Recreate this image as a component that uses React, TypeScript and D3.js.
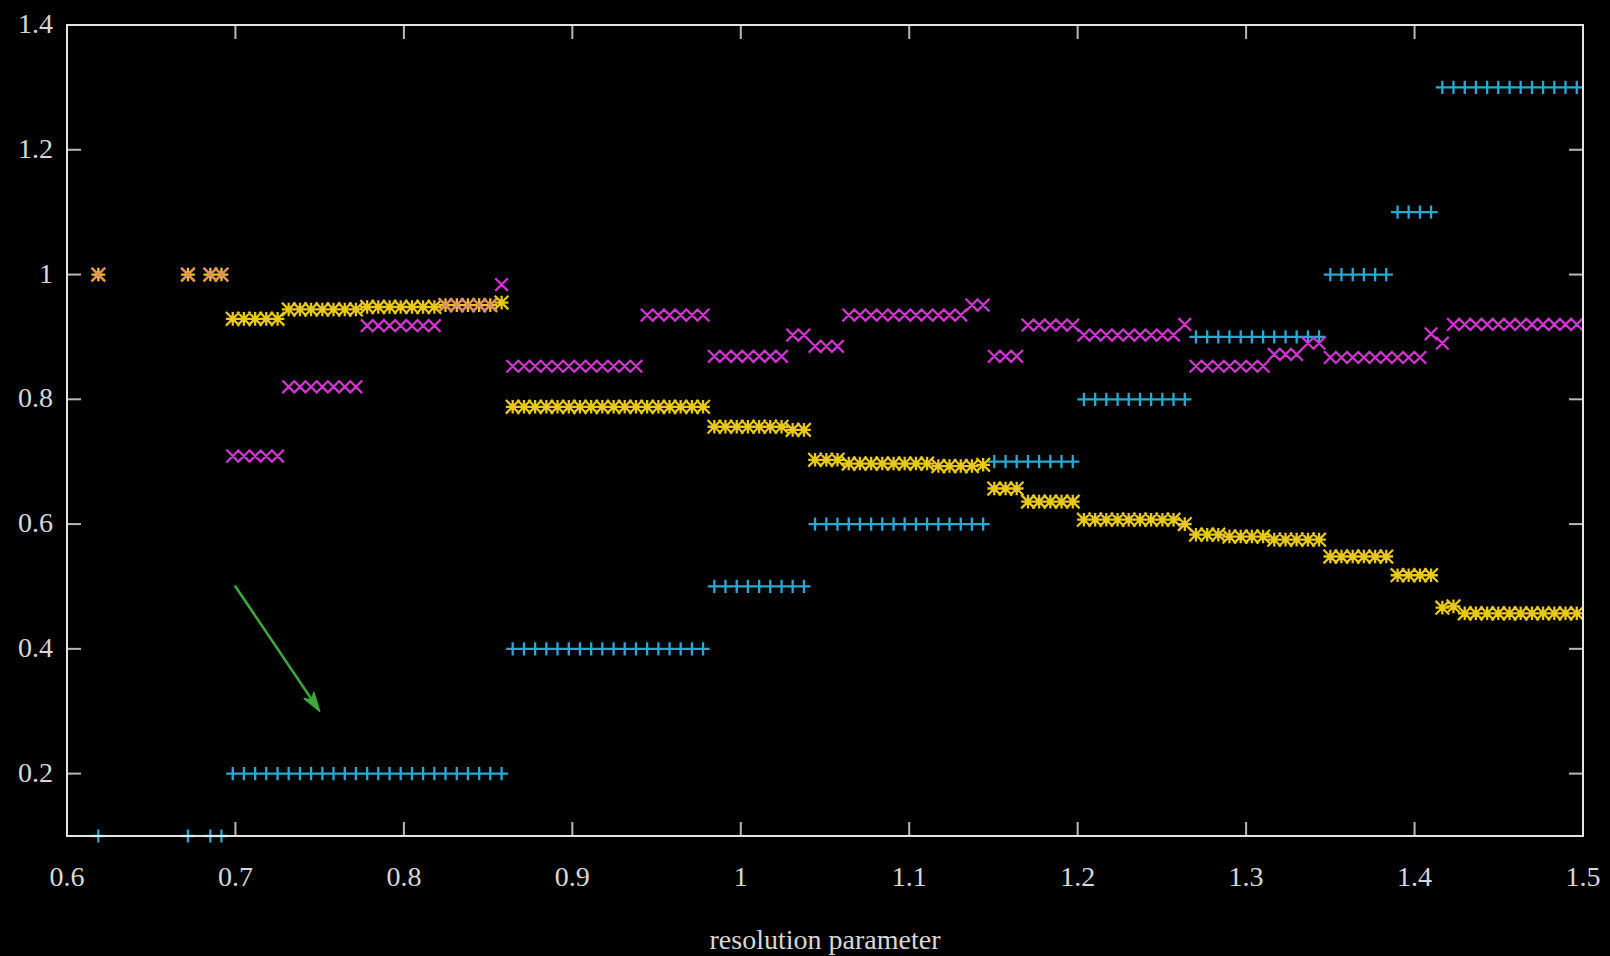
import React from "react";
import * as d3 from "d3";

// resolution parameter grid (x values where points exist)
const resolution = [
  0.6186, 0.6718, 0.6851, 0.6917,
  0.6984, 0.7050, 0.7117, 0.7183, 0.7250,
  0.7316, 0.7383, 0.7449, 0.7516, 0.7582, 0.7649, 0.7715,
  0.7782, 0.7848, 0.7915, 0.7981, 0.8048, 0.8114, 0.8181,
  0.8247, 0.8314, 0.8380, 0.8447, 0.8513,
  0.8580,
  0.8646, 0.8713, 0.8779, 0.8846, 0.8912, 0.8979, 0.9045, 0.9112, 0.9178, 0.9245, 0.9311, 0.9378,
  0.9444, 0.9511, 0.9577, 0.9643, 0.9710, 0.9776,
  0.9843, 0.9909, 0.9976, 1.0042, 1.0109, 1.0175, 1.0242,
  1.0308, 1.0375,
  1.0441, 1.0508, 1.0574,
  1.0641, 1.0707, 1.0774, 1.0840, 1.0907, 1.0973, 1.1040, 1.1106, 1.1173, 1.1239, 1.1306,
  1.1372, 1.1439,
  1.1505, 1.1572, 1.1638,
  1.1705, 1.1771, 1.1838, 1.1904, 1.1971,
  1.2037, 1.2104, 1.2170, 1.2237, 1.2303, 1.2370, 1.2436, 1.2503, 1.2569,
  1.2636,
  1.2702, 1.2769, 1.2835, 1.2901, 1.2968, 1.3034, 1.3101,
  1.3167, 1.3234, 1.3300,
  1.3367, 1.3433,
  1.3500, 1.3566, 1.3633, 1.3699, 1.3766, 1.3832,
  1.3899, 1.3965, 1.4032,
  1.4098,
  1.4165,
  1.4231,
  1.4298, 1.4364, 1.4431, 1.4497, 1.4564, 1.4630, 1.4697, 1.4763, 1.4830, 1.4896, 1.4963,
];

// cyan "+" series
const seriesPlus = [
  0.1, 0.1, 0.1, 0.1,
  0.2, 0.2, 0.2, 0.2, 0.2, 0.2, 0.2, 0.2, 0.2, 0.2, 0.2, 0.2, 0.2, 0.2, 0.2, 0.2, 0.2, 0.2, 0.2, 0.2, 0.2, 0.2, 0.2, 0.2, 0.2,
  0.4, 0.4, 0.4, 0.4, 0.4, 0.4, 0.4, 0.4, 0.4, 0.4, 0.4, 0.4, 0.4, 0.4, 0.4, 0.4, 0.4, 0.4,
  0.5, 0.5, 0.5, 0.5, 0.5, 0.5, 0.5, 0.5, 0.5,
  0.6, 0.6, 0.6, 0.6, 0.6, 0.6, 0.6, 0.6, 0.6, 0.6, 0.6, 0.6, 0.6, 0.6, 0.6, 0.6,
  0.7, 0.7, 0.7, 0.7, 0.7, 0.7, 0.7, 0.7,
  0.8, 0.8, 0.8, 0.8, 0.8, 0.8, 0.8, 0.8, 0.8, 0.8,
  0.9, 0.9, 0.9, 0.9, 0.9, 0.9, 0.9, 0.9, 0.9, 0.9, 0.9, 0.9,
  1.0, 1.0, 1.0, 1.0, 1.0, 1.0,
  1.1, 1.1, 1.1, 1.1,
  1.3, 1.3, 1.3, 1.3, 1.3, 1.3, 1.3, 1.3, 1.3, 1.3, 1.3, 1.3, 1.3,
];

// magenta "x" series
const seriesCross = [
  1.0, 1.0, 1.0, 1.0,
  0.709, 0.709, 0.709, 0.709, 0.709,
  0.82, 0.82, 0.82, 0.82, 0.82, 0.82, 0.82,
  0.918, 0.918, 0.918, 0.918, 0.918, 0.918, 0.918,
  0.951, 0.951, 0.951, 0.951, 0.951,
  0.984,
  0.853, 0.853, 0.853, 0.853, 0.853, 0.853, 0.853, 0.853, 0.853, 0.853, 0.853, 0.853,
  0.935, 0.935, 0.935, 0.935, 0.935, 0.935,
  0.869, 0.869, 0.869, 0.869, 0.869, 0.869, 0.869,
  0.903, 0.903,
  0.885, 0.885, 0.885,
  0.935, 0.935, 0.935, 0.935, 0.935, 0.935, 0.935, 0.935, 0.935, 0.935, 0.935,
  0.951, 0.951,
  0.869, 0.869, 0.869,
  0.919, 0.919, 0.919, 0.919, 0.919,
  0.903, 0.903, 0.903, 0.903, 0.903, 0.903, 0.903, 0.903, 0.903,
  0.92,
  0.853, 0.853, 0.853, 0.853, 0.853, 0.853, 0.853,
  0.872, 0.872, 0.872,
  0.89, 0.89,
  0.867, 0.867, 0.867, 0.867, 0.867, 0.867, 0.867, 0.867, 0.867,
  0.905,
  0.89,
  0.92, 0.92, 0.92, 0.92, 0.92, 0.92, 0.92, 0.92, 0.92, 0.92, 0.92, 0.92,
];

// yellow "*" series
const seriesStar = [
  1.0, 1.0, 1.0, 1.0,
  0.929, 0.929, 0.929, 0.929, 0.929,
  0.944, 0.944, 0.944, 0.944, 0.944, 0.944, 0.944,
  0.948, 0.948, 0.948, 0.948, 0.948, 0.948, 0.948,
  0.951, 0.951, 0.951, 0.951, 0.951,
  0.955,
  0.788, 0.788, 0.788, 0.788, 0.788, 0.788, 0.788, 0.788, 0.788, 0.788, 0.788, 0.788, 0.788, 0.788, 0.788, 0.788, 0.788, 0.788,
  0.756, 0.756, 0.756, 0.756, 0.756, 0.756, 0.756,
  0.751, 0.751,
  0.703, 0.703, 0.703,
  0.697, 0.697, 0.697, 0.697, 0.697, 0.697, 0.697, 0.697,
  0.693, 0.693, 0.693, 0.693, 0.695,
  0.657, 0.657, 0.657,
  0.636, 0.636, 0.636, 0.636, 0.636,
  0.607, 0.607, 0.607, 0.607, 0.607, 0.607, 0.607, 0.607, 0.607,
  0.6,
  0.583, 0.583, 0.583,
  0.58, 0.58, 0.58, 0.58,
  0.575, 0.575, 0.575, 0.575, 0.575,
  0.548, 0.548, 0.548, 0.548, 0.548, 0.548,
  0.518, 0.518, 0.518, 0.518,
  0.466,
  0.468,
  0.457, 0.457, 0.457, 0.457, 0.457, 0.457, 0.457, 0.457, 0.457, 0.457, 0.457,
];

const xTicks = [0.6, 0.7, 0.8, 0.9, 1.0, 1.1, 1.2, 1.3, 1.4, 1.5];
const xTickLabels = ["0.6", "0.7", "0.8", "0.9", "1", "1.1", "1.2", "1.3", "1.4", "1.5"];
const yTicks = [0.2, 0.4, 0.6, 0.8, 1.0, 1.2, 1.4];
const yTickLabels = ["0.2", "0.4", "0.6", "0.8", "1", "1.2", "1.4"];
const xLabel = "resolution parameter";
const arrowFrom = [0.7, 0.5];
const arrowTo = [0.75, 0.3];

const W = 1610;
const H = 956;
const PL = 67, PR = 1583, PT = 25, PB = 836;
const FONT = "'Liberation Serif', 'Times New Roman', serif";

const COL_PLUS = "#2aa8d2";
const COL_CROSS = "#cf35cf";
const COL_STAR = "#e8c81a";

function markerPath(type: string, cx: number, cy: number, s: number): string {
  const plus = `M${cx - s},${cy}H${cx + s}M${cx},${cy - s}V${cy + s}`;
  const cross = `M${cx - s},${cy - s}L${cx + s},${cy + s}M${cx - s},${cy + s}L${cx + s},${cy - s}`;
  if (type === "plus") return plus;
  if (type === "cross") return cross;
  return plus + cross;
}

export default function App() {
  const x = d3.scaleLinear().domain([0.6, 1.5]).range([PL, PR]);
  const y = d3.scaleLinear().domain([0.1, 1.4]).range([PB, PT]);

  const n = resolution.length;
  const build = (vals: number[], type: string, s: number) =>
    vals
      .slice(0, n)
      .map((v, i) => markerPath(type, x(resolution[i]), y(v), s))
      .join("");

  const overlapIdx = seriesStar
    .map((v, i) => (i < n && Math.abs(v - seriesCross[i]) < 1e-9 ? i : -1))
    .filter((i) => i >= 0);
  const overlapPath = overlapIdx
    .map((i) => markerPath("cross", x(resolution[i]), y(seriesCross[i]), 6.3))
    .join("");

  // arrow
  const ax0 = x(arrowFrom[0]), ay0 = y(arrowFrom[1]);
  const ax1 = x(arrowTo[0]), ay1 = y(arrowTo[1]);
  const ang = Math.atan2(ay1 - ay0, ax1 - ax0);
  const hl = 20, ha = (17 * Math.PI) / 180;
  const b1 = [ax1 - hl * Math.cos(ang - ha), ay1 - hl * Math.sin(ang - ha)];
  const b2 = [ax1 - hl * Math.cos(ang + ha), ay1 - hl * Math.sin(ang + ha)];
  const notch = [ax1 - hl * 0.7 * Math.cos(ang), ay1 - hl * 0.7 * Math.sin(ang)];

  const tickLen = 14;

  return (
    <svg
      width={W}
      height={H}
      style={{ position: "absolute", left: 0, top: 0, display: "block", background: "#000" }}
    >
      <defs>
        <filter id="soft" x="-5%" y="-5%" width="110%" height="110%">
          <feGaussianBlur stdDeviation="0.6" />
        </filter>
      </defs>
      <rect x={0} y={0} width={W} height={H} fill="#000" />

      {/* ticks, inward, mirrored */}
      <g stroke="#b8b8b8" strokeWidth={2}>
        {xTicks.map((t, i) => (
          <g key={"xt" + i}>
            <line x1={x(t)} x2={x(t)} y1={PB} y2={PB - tickLen} />
            <line x1={x(t)} x2={x(t)} y1={PT} y2={PT + tickLen} />
          </g>
        ))}
        {yTicks.map((t, i) => (
          <g key={"yt" + i}>
            <line x1={PL} x2={PL + tickLen} y1={y(t)} y2={y(t)} />
            <line x1={PR} x2={PR - tickLen} y1={y(t)} y2={y(t)} />
          </g>
        ))}
      </g>

      {/* data */}
      <g filter="url(#soft)">
        <path d={build(seriesPlus, "plus", 6.6)} stroke={COL_PLUS} strokeWidth={2.3} fill="none" />
        <path d={build(seriesCross, "cross", 6.3)} stroke={COL_CROSS} strokeWidth={2.3} fill="none" />
        <path d={build(seriesStar, "star", 6.8)} stroke={COL_STAR} strokeWidth={2.3} fill="none" />
        <path d={overlapPath} stroke={COL_CROSS} strokeWidth={2.3} fill="none" opacity={0.4} />
      </g>

      {/* arrow */}
      <g stroke="#3ea83a" fill="#3ea83a" strokeWidth={2.6} strokeLinecap="round" filter="url(#soft)">
        <line x1={ax0} y1={ay0} x2={notch[0]} y2={notch[1]} />
        <path
          d={`M${ax1},${ay1}L${b1[0]},${b1[1]}L${notch[0]},${notch[1]}L${b2[0]},${b2[1]}Z`}
          strokeWidth={1.5}
          strokeLinejoin="round"
        />
      </g>

      {/* frame */}
      <rect
        x={PL}
        y={PT}
        width={PR - PL}
        height={PB - PT}
        fill="none"
        stroke="#e4e4e4"
        strokeWidth={2}
      />

      {/* labels */}
      <g fill="#d8d8d8" fontFamily={FONT} fontSize={28}>
        {xTicks.map((t, i) => (
          <text key={"xl" + i} x={x(t)} y={PB + 50} textAnchor="middle">
            {xTickLabels[i]}
          </text>
        ))}
        {yTicks.map((t, i) => (
          <text key={"yl" + i} x={PL - 14} y={y(t) + 8} textAnchor="end">
            {yTickLabels[i]}
          </text>
        ))}
        <text x={(PL + PR) / 2} y={949} textAnchor="middle">
          {xLabel}
        </text>
      </g>
    </svg>
  );
}
